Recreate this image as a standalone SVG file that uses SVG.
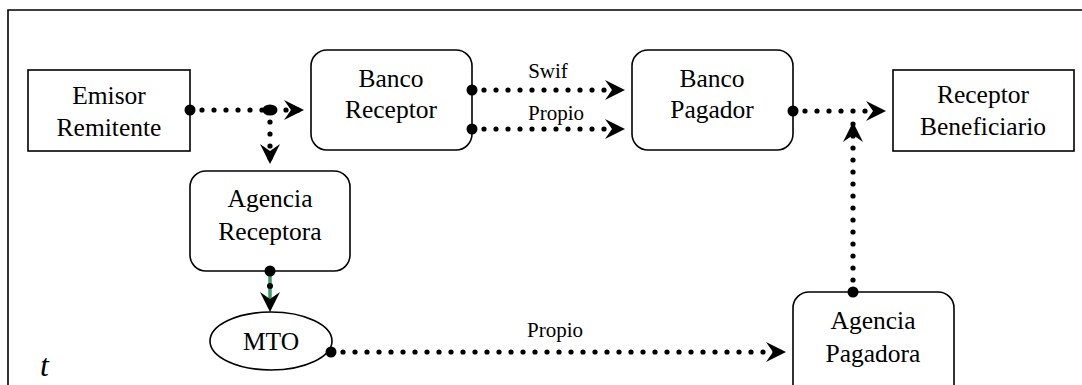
<svg xmlns="http://www.w3.org/2000/svg" width="1082" height="385" viewBox="0 0 1082 385">
<style>
.box{fill:#fff;stroke:#000;stroke-width:1.6}
.t{font-family:"Liberation Serif","Times New Roman",serif;font-size:25.5px;fill:#000;text-anchor:middle}
.lbl{font-family:"Liberation Serif","Times New Roman",serif;font-size:21px;fill:#000;text-anchor:middle}
.dot{fill:none;stroke:#000;stroke-width:5.2;stroke-linecap:round;stroke-dasharray:0 12}
</style>
<defs>
<marker id="arr" markerUnits="userSpaceOnUse" viewBox="-22 -11 24 22" refX="0" refY="0" markerWidth="24" markerHeight="22" orient="auto">
<path d="M0,0 L-20,-10 L-13,0 L-20,10 Z" fill="#000"/>
</marker>
</defs>
<rect width="1082" height="385" fill="#fff"/>
<path d="M8,385 V10 H1082" fill="none" stroke="#000" stroke-width="1.6"/>

<g id="emisor">
<rect class="box" x="28" y="70" width="162" height="81"/>
<text class="t" x="109" y="104">Emisor</text>
<text class="t" x="109" y="136">Remitente</text>
</g>
<g id="banco-receptor">
<rect class="box" x="311" y="50" width="161" height="100" rx="16"/>
<text class="t" x="391" y="87">Banco</text>
<text class="t" x="391" y="118">Receptor</text>
</g>
<g id="banco-pagador">
<rect class="box" x="632" y="50" width="161" height="100" rx="16"/>
<text class="t" x="712" y="87">Banco</text>
<text class="t" x="712" y="118">Pagador</text>
</g>
<g id="receptor-beneficiario">
<rect class="box" x="893" y="70" width="181" height="81"/>
<text class="t" x="983" y="103">Receptor</text>
<text class="t" x="983" y="135">Beneficiario</text>
</g>
<g id="agencia-receptora">
<rect class="box" x="190" y="171" width="160" height="100" rx="16"/>
<text class="t" x="270" y="207">Agencia</text>
<text class="t" x="270" y="240">Receptora</text>
</g>
<g id="mto">
<ellipse class="box" cx="271" cy="341" rx="61" ry="29"/>
<text class="t" x="271" y="350">MTO</text>
</g>
<g id="agencia-pagadora">
<rect class="box" x="793" y="292" width="161" height="110" rx="16"/>
<text class="t" x="873" y="329">Agencia</text>
<text class="t" x="873" y="362">Pagadora</text>
</g>

<g id="connectors">
<path class="dot" d="M190,110 H304" marker-end="url(#arr)"/>
<path class="dot" d="M270,110 V164" marker-end="url(#arr)"/>
<path class="dot" d="M472,90 H625" marker-end="url(#arr)"/>
<path class="dot" d="M472,129 H625" marker-end="url(#arr)"/>
<path class="dot" d="M793,111 H886" marker-end="url(#arr)"/>
<path class="dot" d="M853,292 V122" marker-end="url(#arr)"/>
<path class="dot" d="M331,352 H786" marker-end="url(#arr)"/>
<path d="M270,271 V300" stroke="#3a9a6a" stroke-width="3.5" fill="none"/>
<path d="M270,306 L270,312" stroke="#000" stroke-width="0.1" fill="none" marker-end="url(#arr)"/>
<circle cx="270" cy="286" r="3"/>
<circle cx="190" cy="110" r="5.5"/>
<ellipse cx="270" cy="110" rx="7.5" ry="5.5"/>
<circle cx="472" cy="90" r="5.5"/>
<circle cx="472" cy="129" r="5.5"/>
<circle cx="793" cy="111" r="5.5"/>
<circle cx="853" cy="292" r="5.5"/>
<circle cx="331" cy="352" r="5.5"/>
<circle cx="270" cy="271" r="5.5"/>
<text class="lbl" x="548" y="78">Swif</text>
<text class="lbl" x="556" y="120">Propio</text>
<text class="lbl" x="555" y="337">Propio</text>
</g>
<text x="40" y="376" font-family="Liberation Serif, serif" font-style="italic" font-size="32">t</text>
</svg>
